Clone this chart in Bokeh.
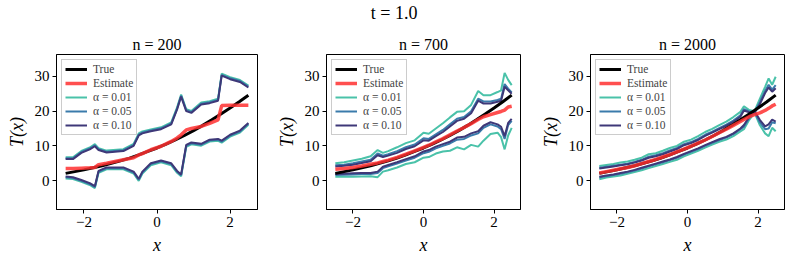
from bokeh.plotting import figure
from bokeh.layouts import column, row
from bokeh.models import Range1d, FixedTicker, Legend, LegendItem, Label
from bokeh.embed import file_html
from bokeh.resources import INLINE

# ---------------- data ----------------
suptitle = "t = 1.0"
titles = ["n = 200", "n = 700", "n = 2000"]

x_true = [-2.5, -2.25, -2.0, -1.75, -1.5, -1.25, -1.0, -0.75, -0.5, -0.25, 0.0,
          0.25, 0.5, 0.75, 1.0, 1.25, 1.5, 1.75, 2.0, 2.25, 2.5]
y_true = [2.1, 2.6, 3.1, 3.7, 4.3, 5.0, 5.7, 6.5, 7.4, 8.4, 9.4,
          10.5, 11.7, 13.0, 14.4, 15.9, 17.5, 19.2, 20.9, 22.7, 24.6]

# panel n = 200
x1 = [-2.5, -2.3, -2.07, -1.84, -1.7, -1.6, -1.38, -0.92, -0.64, -0.5, -0.4, -0.17, 0.11,
      0.39, 0.55, 0.66, 0.8, 0.94, 1.21, 1.44, 1.67, 1.77, 2.0, 2.27, 2.5]
est1 = [3.5, 3.5, 3.6, 3.7, 3.8, 4.6, 5.0, 6.0, 6.6, 7.4, 7.8, 8.9, 9.9,
        11.3, 12.3, 13.2, 14.6, 15.0, 15.6, 16.5, 17.5, 21.6, 21.7, 21.7, 21.7]
up01_1 = [6.75, 6.75, 8.55, 9.55, 10.5, 9.35, 8.65, 9.05, 10.55, 13.6, 14.15, 14.75, 15.35,
          16.75, 21.1, 24.8, 20.55, 20.05, 22.5, 22.85, 23.55, 30.8, 29.8, 28.95, 27.35]
up05_1 = [6.45, 6.45, 8.25, 9.25, 10.15, 9.05, 8.35, 8.75, 10.25, 13.25, 13.85, 14.45, 15.05,
          16.45, 20.75, 24.45, 20.25, 19.75, 22.15, 22.55, 23.25, 30.45, 29.45, 28.65, 27.05]
up10_1 = [6.2, 6.2, 8.0, 9.0, 9.9, 8.8, 8.1, 8.5, 10.0, 13.0, 13.6, 14.2, 14.8,
          16.2, 20.5, 24.2, 20.0, 19.5, 21.9, 22.3, 23.0, 30.2, 29.2, 28.4, 26.8]
lo01_1 = [0.65, 0.45, -0.35, -1.25, -2.15, 2.25, 3.25, 3.25, 2.05, -0.05, 2.05, 4.45, 5.25,
          4.45, 2.25, 1.25, 9.75, 10.45, 10.05, 11.25, 11.45, 10.95, 12.65, 13.85, 16.05]
lo05_1 = [0.95, 0.75, -0.05, -0.95, -1.85, 2.55, 3.55, 3.55, 2.35, 0.25, 2.35, 4.75, 5.55,
          4.75, 2.55, 1.55, 10.05, 10.75, 10.35, 11.55, 11.75, 11.25, 12.95, 14.15, 16.35]
lo10_1 = [1.2, 1.0, 0.2, -0.7, -1.6, 2.8, 3.8, 3.8, 2.6, 0.5, 2.6, 5.0, 5.8,
          5.0, 2.8, 1.8, 10.3, 11.0, 10.6, 11.8, 12.0, 11.5, 13.2, 14.4, 16.6]

# panel n = 700
x2 = [-2.5, -2.25, -2.0, -1.75, -1.5, -1.3, -1.15, -1.0, -0.75, -0.5, -0.25, 0.0, 0.15,
      0.35, 0.55, 0.75, 0.95, 1.15, 1.35, 1.55, 1.7, 1.9, 2.1, 2.2, 2.3, 2.4, 2.5]
est2 = [3.3, 3.5, 3.8, 4.2, 4.7, 5.1, 5.5, 5.9, 6.7, 7.6, 8.6, 9.6, 10.2,
        11.2, 12.1, 13.2, 14.3, 15.3, 16.4, 17.6, 18.4, 19.0, 19.6, 19.9, 20.3, 21.2, 21.4]
up01_2 = [5.0, 5.3, 5.8, 6.3, 7.0, 8.8, 8.0, 8.5, 9.6, 10.8, 11.6, 13.8, 13.5,
          15.0, 16.5, 18.2, 19.8, 20.0, 21.8, 25.8, 24.6, 24.6, 25.5, 26.0, 31.0, 29.0, 27.5]
up05_2 = [4.4, 4.6, 5.0, 5.5, 6.0, 7.8, 7.2, 7.6, 8.5, 9.6, 10.4, 12.2, 12.0,
          13.3, 14.6, 16.2, 17.8, 18.3, 20.0, 23.6, 22.8, 22.8, 23.2, 23.6, 27.8, 26.5, 25.4]
up10_2 = [4.1, 4.3, 4.6, 5.1, 5.6, 7.3, 6.8, 7.2, 8.0, 9.1, 9.9, 11.6, 11.5,
          12.8, 14.0, 15.6, 17.2, 17.8, 19.4, 23.0, 22.2, 22.2, 22.7, 23.0, 27.0, 26.0, 25.0]
lo01_2 = [1.1, 1.1, 1.1, 1.2, 1.3, 1.0, 2.6, 3.0, 3.8, 4.8, 5.3, 6.6, 6.8,
          7.8, 8.4, 8.6, 9.6, 9.0, 10.3, 9.8, 11.5, 13.4, 13.8, 12.5, 9.0, 13.0, 15.2]
lo05_2 = [1.6, 1.7, 1.8, 1.9, 1.9, 2.2, 3.6, 4.1, 4.9, 5.8, 6.6, 7.9, 8.3,
          9.3, 10.0, 10.7, 11.8, 12.0, 13.0, 13.6, 15.2, 16.2, 15.6, 14.8, 12.0, 16.0, 17.2]
lo10_2 = [1.9, 2.0, 2.1, 2.2, 2.2, 2.6, 4.0, 4.5, 5.3, 6.2, 7.0, 8.4, 8.8,
          9.8, 10.5, 11.2, 12.4, 12.6, 13.6, 14.2, 15.8, 16.8, 16.2, 15.5, 12.8, 16.6, 17.8]

# panel n = 2000
x3 = [-2.5, -2.3, -2.1, -1.9, -1.7, -1.5, -1.3, -1.1, -0.9, -0.7, -0.5, -0.3, -0.1, 0.1,
      0.3, 0.5, 0.7, 0.9, 1.1, 1.3, 1.5, 1.6, 1.75, 1.9, 2.05, 2.2, 2.3, 2.4, 2.5]
est3 = [2.2, 2.6, 3.0, 3.4, 3.8, 4.3, 4.9, 5.5, 6.1, 6.8, 7.5, 8.3, 9.1, 9.9,
        10.8, 11.7, 12.7, 13.8, 14.8, 15.9, 17.0, 17.6, 18.4, 19.0, 19.5, 20.2, 20.8, 21.5, 22.0]
up01_3 = [4.2, 4.5, 4.8, 5.2, 5.5, 6.0, 6.6, 7.6, 7.9, 8.6, 9.4, 10.0, 11.2, 11.8,
          12.8, 14.0, 14.9, 16.0, 17.0, 18.3, 19.8, 21.4, 20.3, 20.0, 23.5, 27.0, 29.4, 27.6, 29.9]
up05_3 = [3.7, 4.0, 4.3, 4.6, 4.9, 5.4, 6.0, 6.9, 7.3, 7.9, 8.7, 9.4, 10.5, 11.1,
          12.0, 13.2, 14.1, 15.1, 16.1, 17.3, 18.8, 20.6, 19.9, 19.7, 22.6, 25.8, 27.6, 26.2, 27.5]
up10_3 = [3.5, 3.8, 4.1, 4.4, 4.7, 5.2, 5.8, 6.6, 7.0, 7.6, 8.4, 9.1, 10.2, 10.8,
          11.7, 12.9, 13.8, 14.8, 15.8, 16.9, 18.4, 20.2, 19.7, 19.5, 22.0, 25.2, 26.8, 25.6, 26.6]
lo01_3 = [0.4, 0.9, 1.2, 1.5, 2.0, 2.5, 3.0, 3.6, 4.2, 4.8, 5.4, 6.0, 7.0, 7.8,
          8.6, 9.5, 10.4, 11.2, 11.8, 12.8, 14.2, 14.8, 17.5, 19.6, 16.0, 13.6, 12.8, 15.2, 14.2]
lo05_3 = [0.9, 1.3, 1.6, 2.0, 2.4, 2.9, 3.5, 4.1, 4.7, 5.3, 5.9, 6.6, 7.5, 8.3,
          9.1, 10.0, 10.9, 11.7, 12.4, 13.4, 14.8, 15.5, 18.0, 19.8, 16.8, 14.8, 15.0, 16.8, 16.5]
lo10_3 = [1.1, 1.5, 1.8, 2.2, 2.6, 3.1, 3.7, 4.3, 4.9, 5.5, 6.1, 6.8, 7.7, 8.5,
          9.3, 10.2, 11.1, 11.9, 12.6, 13.6, 15.0, 16.0, 18.4, 20.0, 17.5, 15.6, 16.2, 17.6, 17.0]

legend_labels = ["True", "Estimate", "α = 0.01", "α = 0.05", "α = 0.10"]
x_ticks = [-2, 0, 2]
y_ticks = [0, 10, 20, 30]

# ---------------- styling ----------------
SERIF = "Liberation Serif"
C_TRUE = "black"
C_EST = "#ff3030"
C01 = "#4ac2a9"
C05 = "#3a7bab"
C10 = "#3e3878"


def panel(title, x, est, bands, w, left, right):
    p = figure(width=w, height=226, x_range=Range1d(-2.75, 2.75), y_range=Range1d(-8.3, 36.3),
               toolbar_location=None, output_backend="svg",
               min_border_left=left, min_border_right=right, min_border_top=21, min_border_bottom=49)
    p.title.text = title
    p.title.align = "center"
    p.title.text_font = SERIF
    p.title.text_font_size = "16px"
    p.title.text_font_style = "normal"
    p.title.text_color = "black"
    p.title.standoff = 3
    p.grid.visible = False
    p.outline_line_color = "black"
    p.outline_line_alpha = 1
    p.outline_line_width = 1
    p.background_fill_color = "white"
    p.border_fill_color = "white"

    p.xaxis.ticker = FixedTicker(ticks=x_ticks)
    p.xaxis.major_label_overrides = {-2: "−2", 0: "0", 2: "2"}
    p.yaxis.ticker = FixedTicker(ticks=y_ticks)
    p.axis.minor_tick_line_color = None
    p.axis.major_tick_in = 0
    p.axis.major_tick_out = 4
    p.axis.axis_line_color = "black"
    p.axis.major_tick_line_color = "black"
    p.axis.major_label_text_font = SERIF
    p.axis.major_label_text_font_size = "15px"
    p.axis.major_label_text_color = "black"
    p.axis.major_label_standoff = 3
    p.xaxis.axis_label = "x"
    p.yaxis.axis_label = "T(x)"
    p.axis.axis_label_text_font = SERIF
    p.axis.axis_label_text_font_size = "18px"
    p.axis.axis_label_text_font_style = "italic"
    p.axis.axis_label_text_color = "black"
    p.axis.axis_label_standoff = 5

    (u01, u05, u10, l01, l05, l10) = bands
    r01 = p.line(x, u01, line_color=C01, line_width=2)
    p.line(x, l01, line_color=C01, line_width=2)
    r05 = p.line(x, u05, line_color=C05, line_width=2)
    p.line(x, l05, line_color=C05, line_width=2)
    r10 = p.line(x, u10, line_color=C10, line_width=2)
    p.line(x, l10, line_color=C10, line_width=2)
    rt = p.line(x_true, y_true, line_color=C_TRUE, line_width=3)
    re = p.line(x, est, line_color=C_EST, line_width=3.5, line_alpha=0.85)

    items = [LegendItem(label=legend_labels[0], renderers=[rt]),
             LegendItem(label=legend_labels[1], renderers=[re]),
             LegendItem(label=legend_labels[2], renderers=[r01]),
             LegendItem(label=legend_labels[3], renderers=[r05]),
             LegendItem(label=legend_labels[4], renderers=[r10])]
    leg = Legend(items=items, location="top_left", label_text_font=SERIF,
                 label_text_font_size="11.5px", glyph_width=22, glyph_height=10,
                 label_height=11, spacing=2, padding=3, margin=5, label_standoff=6,
                 border_line_color="#999999", border_line_width=1,
                 background_fill_alpha=0.9)
    p.add_layout(leg)
    return p


p1 = panel(titles[0], x1, est1, (up01_1, up05_1, up10_1, lo01_1, lo05_1, lo10_1), 273, 56, 16)
p2 = panel(titles[1], x2, est2, (up01_2, up05_2, up10_2, lo01_2, lo05_2, lo10_2), 264, 48, 17)
p3 = panel(titles[2], x3, est3, (up01_3, up05_3, up10_3, lo01_3, lo05_3, lo10_3), 251, 50, 4)

top = figure(width=788, height=32, x_range=Range1d(0, 1), y_range=Range1d(0, 32),
             toolbar_location=None, output_backend="svg", min_border=0)
top.axis.visible = False
top.grid.visible = False
top.outline_line_color = None
top.add_layout(Label(x=0.4995, y=20, text=suptitle, text_align="center", text_baseline="middle",
                     text_font=SERIF, text_font_size="18px", text_color="black"))

layout = column(top, row(p1, p2, p3, spacing=0), spacing=0)
open("out.html", "w").write(file_html(layout, INLINE))
